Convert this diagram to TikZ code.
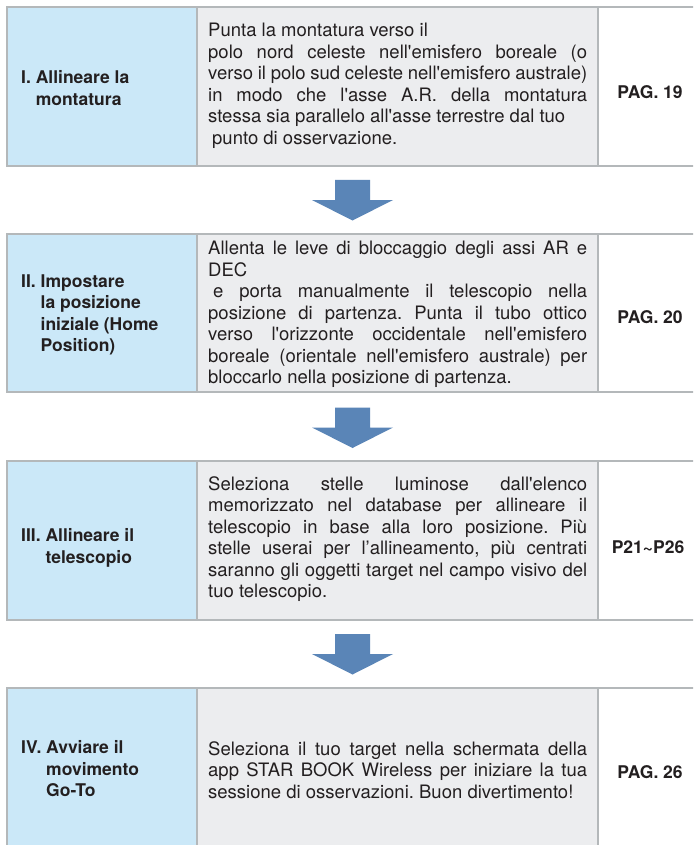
\documentclass[tikz,border=0pt]{standalone}
\usepackage{fontspec}
\setmainfont{TeX Gyre Heros}[Ligatures=TeXOff]
\definecolor{cellblue}{HTML}{CBE8F8}
\definecolor{cellgrey}{HTML}{ECEDEF}
\definecolor{rulegrey}{HTML}{B4B8BA}
\definecolor{arrowblue}{HTML}{5A85B7}
\definecolor{txtcol}{HTML}{231F20}
\newcommand\JL[1]{\hbox to \hsize{#1}}
\newcommand\NL[1]{\hbox{#1}}
\newcommand\DescBox[1]{\vbox{\hsize=379pt\relax #1}}
\tikzset{
  cellA/.style={fill=cellblue, draw=rulegrey, line width=2.5pt},
  cellB/.style={fill=cellgrey, draw=rulegrey, line width=2.5pt},
  cellC/.style={fill=white, draw=rulegrey, line width=2.5pt},
  desc/.style={inner sep=0pt, anchor=west, text=txtcol,
    font=\fontsize{18.5}{21.5}\selectfont\frenchspacing},
  lab/.style={inner sep=0pt, anchor=west, text=txtcol,
    font=\fontsize{17.5}{21.5}\selectfont\bfseries},
  pg/.style={inner sep=0pt, text=txtcol, font=\fontsize{17.5}{21.5}\selectfont\bfseries},
  pics/downarrow/.style={code={
    \fill[arrowblue] (-17.5,0) -- (17.5,0) -- (17.5,20) -- (40.5,20) -- (0,40.5)
      -- (-40.5,20) -- (-17.5,20) -- cycle;}}
}
\begin{document}
\begin{tikzpicture}[x=1pt,y=-1pt]
\useasboundingbox (0,0) rectangle (693,845);
\clip (0,0) rectangle (693,845);
\fill[white] (0,0) rectangle (693,845);

% Row 1
\path[cellA] (7,7) rectangle (197,166);
\path[cellB] (197,7) rectangle (598,166);
\path[cellC] (598,7) rectangle (720,166);
% Row 2
\path[cellA] (7,234) rectangle (197,392);
\path[cellB] (197,234) rectangle (598,392);
\path[cellC] (598,234) rectangle (720,392);
% Row 3
\path[cellA] (7,461) rectangle (197,620);
\path[cellB] (197,461) rectangle (598,620);
\path[cellC] (598,461) rectangle (720,620);
% Row 4
\path[cellA] (7,688) rectangle (197,880);
\path[cellB] (197,688) rectangle (598,880);
\path[cellC] (598,688) rectangle (720,880);

% Arrows
\pic (arrowone) at (352.5,180) {downarrow};
\pic (arrowtwo) at (352.5,407.5) {downarrow};
\pic (arrowthree) at (352.5,634) {downarrow};

% Labels column 1
\node[lab] (l1) at (21,90) {\begin{tabular}{@{}l@{}l@{}}\hbox{I.\ } & Allineare la\\ & montatura\end{tabular}};
\node[lab] (l2) at (21,315) {\begin{tabular}{@{}l@{}l@{}}\hbox{II.\ } & Impostare\\ & la posizione\\ & iniziale (Home\\ & Position)\end{tabular}};
\node[lab] (l3) at (21,548) {\begin{tabular}{@{}l@{}l@{}}\hbox{III.\ } & Allineare il\\ & telescopio\end{tabular}};
\node[lab] (l4) at (21,771) {\begin{tabular}{@{}l@{}l@{}}\hbox{IV.\ } & Avviare il\\ & movimento\\ & Go-To\end{tabular}};

% Descriptions column 2
\node[desc] (d1) at (208,86) {\DescBox{%
\NL{Punta la montatura verso il}
\JL{polo nord celeste nell'emisfero boreale (o}
\JL{verso il polo sud celeste nell'emisfero australe)}
\JL{in modo che l'asse A.R. della montatura}
\NL{stessa sia parallelo all'asse terrestre dal tuo}
\NL{\kern4pt punto di osservazione.}}};
\node[desc] (d2) at (208,314.5) {\DescBox{%
\JL{Allenta le leve di bloccaggio degli assi AR e}
\NL{DEC}
\JL{\kern5pt e porta manualmente il telescopio nella}
\JL{posizione di partenza. Punta il tubo ottico}
\JL{verso l'orizzonte occidentale nell'emisfero}
\JL{boreale (orientale nell'emisfero australe) per}
\NL{bloccarlo nella posizione di partenza.}}};
\node[desc] (d3) at (208,539) {\DescBox{%
\JL{Seleziona stelle luminose dall'elenco}
\JL{memorizzato nel database per allineare il}
\JL{telescopio in base alla loro posizione. Più}
\JL{stelle userai per l’allineamento, più centrati}
\JL{saranno gli oggetti target nel campo visivo del}
\NL{tuo telescopio.}}};
\node[desc] (d4) at (208,770) {\DescBox{%
\JL{Seleziona il tuo target nella schermata della}
\JL{app STAR BOOK Wireless per iniziare la tua}
\NL{sessione di osservazioni. Buon divertimento!}}};

% Page references column 3
\node[pg] (p1) at (650,92) {PAG. 19};
\node[pg] (p2) at (650,317) {PAG. 20};
\node[pg] (p3) at (648,547) {P21\textasciitilde P26};
\node[pg] (p4) at (650,772) {PAG. 26};
\end{tikzpicture}
\end{document}
